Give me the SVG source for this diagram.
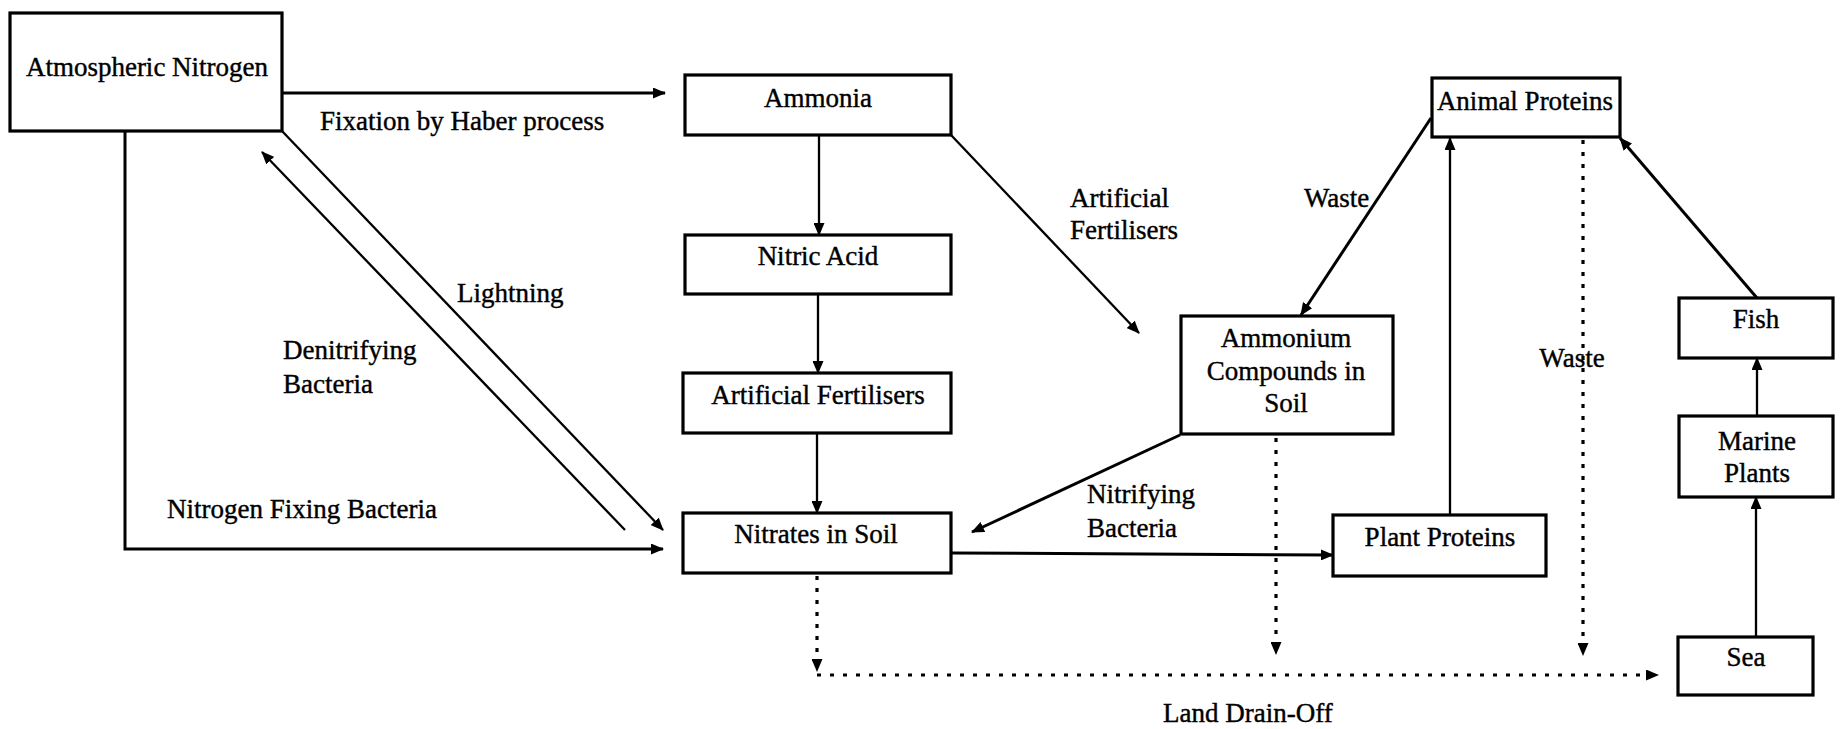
<svg xmlns="http://www.w3.org/2000/svg" width="1840" height="729" viewBox="0 0 1840 729">
  <style>
    .box { fill: #ffffff; stroke: #000000; stroke-width: 3.2; }
    .t { font-family: "Liberation Serif", "Times New Roman", serif; font-size: 27px; fill: #000000; stroke: #000000; stroke-width: 0.4; }
    .c { text-anchor: middle; }
    .line { fill: none; stroke: #000000; stroke-width: 3; }
    .thin { fill: none; stroke: #000000; stroke-width: 2.3; }
    .dotv { fill: none; stroke: #000000; stroke-width: 3.2; stroke-dasharray: 4 8; }
    .doth { fill: none; stroke: #000000; stroke-width: 3.2; stroke-dasharray: 4 9; }
  </style>
  <defs>
    <marker id="arrow" markerUnits="userSpaceOnUse" markerWidth="13" markerHeight="11" refX="12" refY="5.5" orient="auto">
      <path d="M0,0 L13,5.5 L0,11 Z" fill="#000000"/>
    </marker>
  </defs>

  <rect width="1840" height="729" fill="#ffffff"/>

  <!-- connectors -->
  <g id="connectors">
    <path class="line" d="M282,93 H665" marker-end="url(#arrow)"/>
    <path class="thin" d="M282,131 L663,530" marker-end="url(#arrow)"/>
    <path class="thin" d="M625,530 L262,152" marker-end="url(#arrow)"/>
    <path class="line" d="M125,131 V549 H663" marker-end="url(#arrow)"/>
    <path class="thin" d="M819,135 V235" marker-end="url(#arrow)"/>
    <path class="thin" d="M818,294 V373" marker-end="url(#arrow)"/>
    <path class="thin" d="M817,433 V513" marker-end="url(#arrow)"/>
    <path class="thin" d="M951,135 L1139,333" marker-end="url(#arrow)"/>
    <path class="line" d="M1431,118 L1301,315" marker-end="url(#arrow)"/>
    <path class="line" d="M1180,435 L972,532" marker-end="url(#arrow)"/>
    <path class="line" d="M951,553 L1333,555" marker-end="url(#arrow)"/>
    <path class="thin" d="M1450,515 V138" marker-end="url(#arrow)"/>
    <path class="line" d="M1757,298 L1620,138" marker-end="url(#arrow)"/>
    <path class="thin" d="M1757,416 V358" marker-end="url(#arrow)"/>
    <path class="thin" d="M1756,637 V497" marker-end="url(#arrow)"/>
    <path class="dotv" d="M817,576 V671" marker-end="url(#arrow)"/>
    <path class="doth" d="M817,675 H1658" marker-end="url(#arrow)"/>
    <path class="dotv" d="M1276,438 V654" marker-end="url(#arrow)"/>
    <path class="dotv" d="M1583,140 V655" marker-end="url(#arrow)"/>
  </g>

  <!-- connector labels -->
  <g id="labels">
    <text class="t" x="320" y="130">Fixation by Haber process</text>
    <text class="t" x="457" y="302">Lightning</text>
    <text class="t" x="283" y="359">Denitrifying</text>
    <text class="t" x="283" y="393">Bacteria</text>
    <text class="t" x="167" y="518">Nitrogen Fixing Bacteria</text>
    <text class="t" x="1070" y="207">Artificial</text>
    <text class="t" x="1070" y="239">Fertilisers</text>
    <text class="t" x="1304" y="207">Waste</text>
    <text class="t c" x="1572" y="367">Waste</text>
    <text class="t" x="1087" y="503">Nitrifying</text>
    <text class="t" x="1087" y="537">Bacteria</text>
    <text class="t" x="1163" y="722">Land Drain-Off</text>
  </g>

  <!-- nodes -->
  <g id="atmospheric-nitrogen">
    <rect class="box" x="10" y="13" width="272" height="118"/>
    <text class="t c" x="147" y="76">Atmospheric Nitrogen</text>
  </g>
  <g id="ammonia">
    <rect class="box" x="685" y="75" width="266" height="60"/>
    <text class="t c" x="818" y="107">Ammonia</text>
  </g>
  <g id="nitric-acid">
    <rect class="box" x="685" y="235" width="266" height="59"/>
    <text class="t c" x="818" y="265">Nitric Acid</text>
  </g>
  <g id="artificial-fertilisers">
    <rect class="box" x="683" y="373" width="268" height="60"/>
    <text class="t c" x="818" y="404">Artificial Fertilisers</text>
  </g>
  <g id="nitrates-in-soil">
    <rect class="box" x="683" y="513" width="268" height="60"/>
    <text class="t c" x="816" y="543">Nitrates in Soil</text>
  </g>
  <g id="ammonium-compounds">
    <rect class="box" x="1181" y="316" width="212" height="118"/>
    <text class="t c" x="1286" y="347">Ammonium</text>
    <text class="t c" x="1286" y="380">Compounds in</text>
    <text class="t c" x="1286" y="412">Soil</text>
  </g>
  <g id="plant-proteins">
    <rect class="box" x="1333" y="515" width="213" height="61"/>
    <text class="t c" x="1440" y="546">Plant Proteins</text>
  </g>
  <g id="animal-proteins">
    <rect class="box" x="1432" y="78" width="188" height="59"/>
    <text class="t c" x="1525" y="110">Animal Proteins</text>
  </g>
  <g id="fish">
    <rect class="box" x="1679" y="298" width="154" height="60"/>
    <text class="t c" x="1756" y="328">Fish</text>
  </g>
  <g id="marine-plants">
    <rect class="box" x="1679" y="416" width="154" height="81"/>
    <text class="t c" x="1757" y="450">Marine</text>
    <text class="t c" x="1757" y="482">Plants</text>
  </g>
  <g id="sea">
    <rect class="box" x="1678" y="637" width="135" height="58"/>
    <text class="t c" x="1746" y="666">Sea</text>
  </g>
</svg>
